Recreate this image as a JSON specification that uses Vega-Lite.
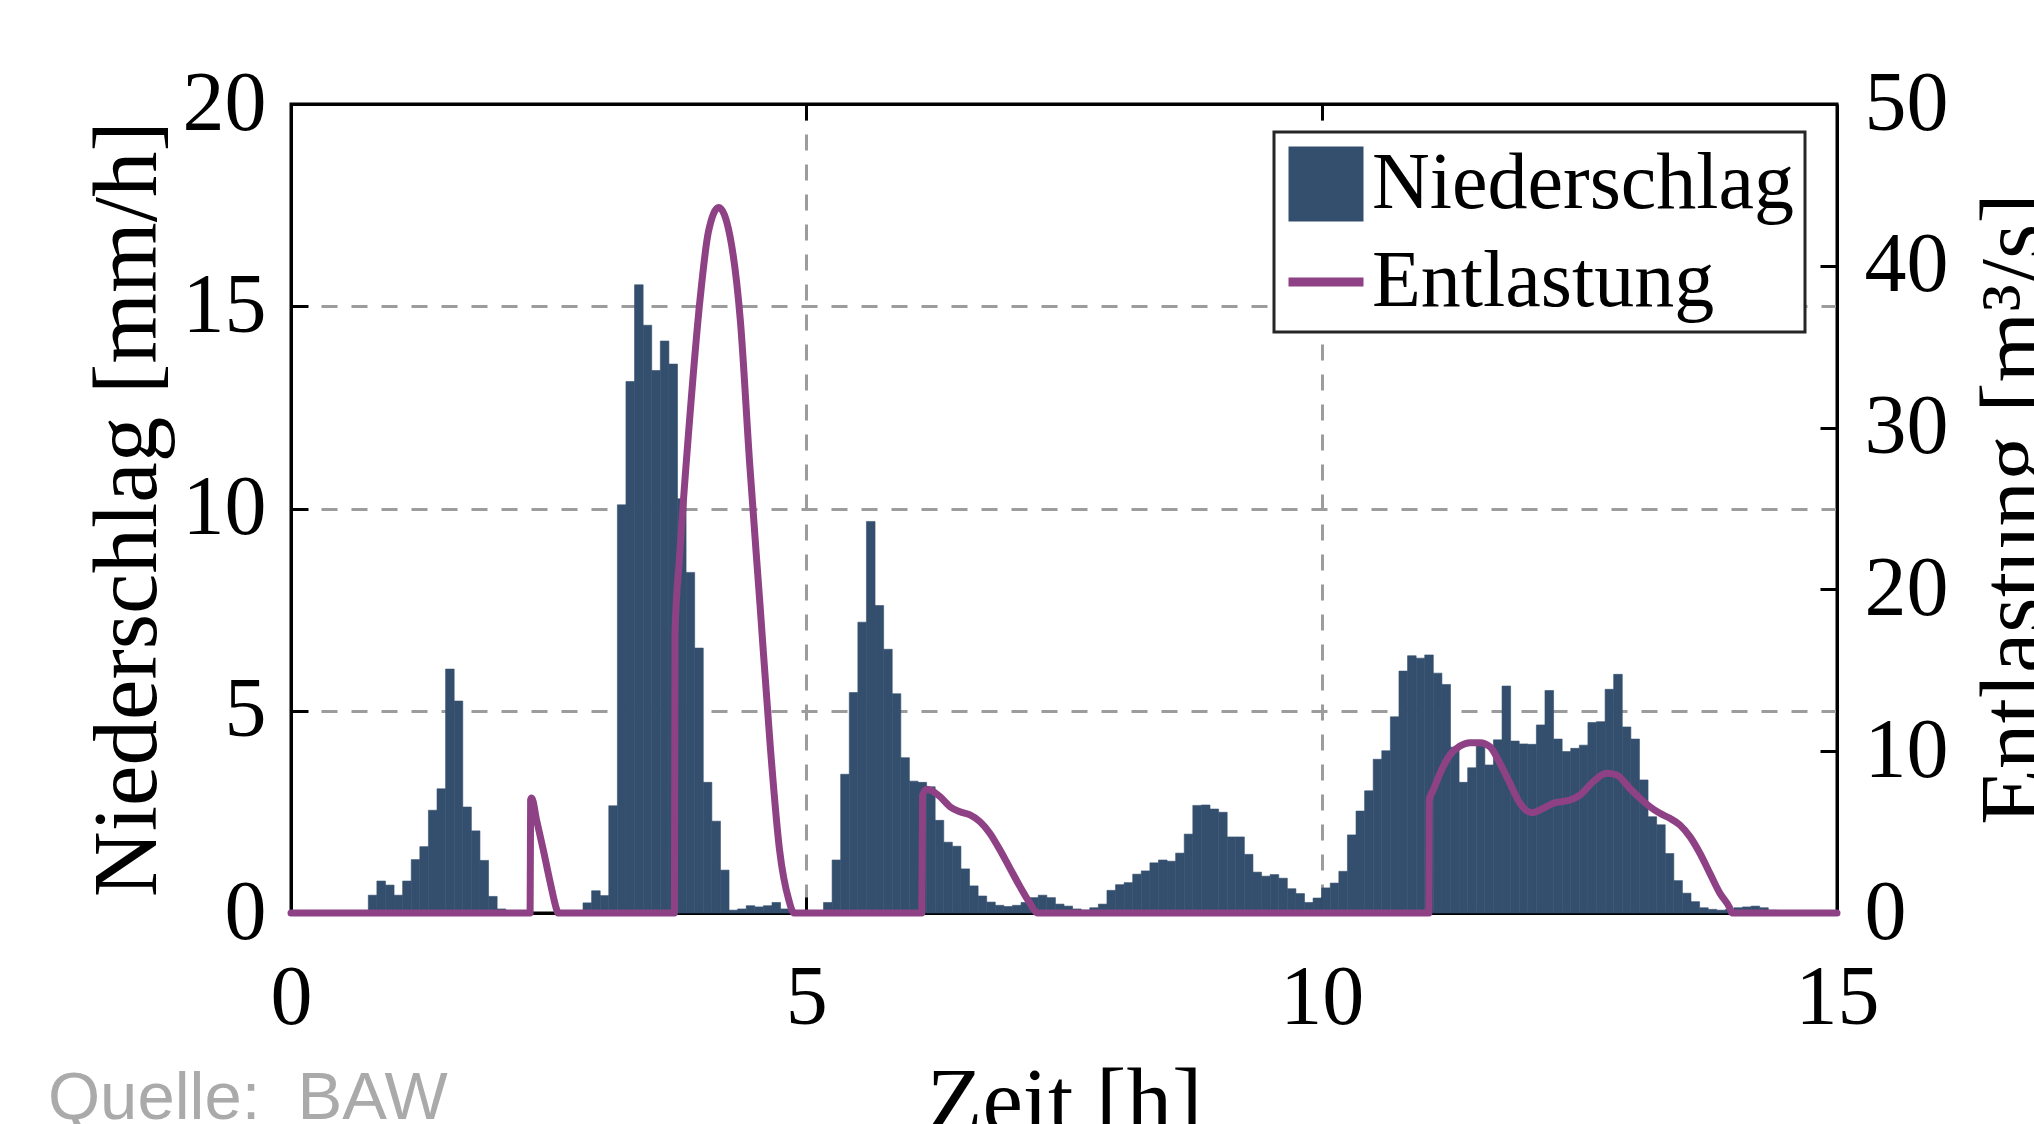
{
  "$schema": "https://vega.github.io/schema/vega-lite/v6.json",
  "width": 1546,
  "height": 809,
  "autosize": {"type": "none"},
  "padding": {"left": 291, "top": 104, "right": 197, "bottom": 211},
  "background": "white",
  "config": {
    "view": {"stroke": "black", "strokeWidth": 3},
    "font": "Liberation Serif",
    "axis": {
      "labelFont": "Liberation Serif",
      "labelFontSize": 84,
      "labelColor": "black",
      "titleFont": "Liberation Serif",
      "titleFontSize": 91,
      "titleFontWeight": "normal",
      "titleColor": "black",
      "domainColor": "black",
      "domainWidth": 3,
      "tickColor": "black",
      "tickWidth": 3,
      "gridColor": "#9c9c9c",
      "gridWidth": 3,
      "gridDash": [16, 14],
      "labelFlush": false,
      "labelOverlap": false
    },
    "legend": {
      "orient": "none",
      "legendX": 983,
      "legendY": 28,
      "direction": "vertical",
      "fillColor": "white",
      "strokeColor": "#262626",
      "strokeWidth": 3,
      "padding": 10,
      "labelOffset": 4,
      "rowPadding": -3,
      "symbolSize": 5625,
      "symbolStrokeWidth": 9,
      "symbolOpacity": 1,
      "labelFont": "Liberation Serif",
      "labelFontSize": 80,
      "labelColor": "black",
      "labelLimit": 0
    }
  },
  "title": {
    "text": "Quelle:\u00a0\u00a0BAW",
    "orient": "bottom",
    "anchor": "start",
    "frame": "group",
    "dx": -243,
    "offset": -82,
    "font": "Liberation Sans",
    "fontSize": 67,
    "fontWeight": "normal",
    "color": "#aaaaaa"
  },
  "datasets": {
    "series": [{"series": "Niederschlag"}, {"series": "Entlastung"}],
    "rain": [
      {"t0": 0.75, "t1": 0.8333, "mm": 0.44},
      {"t0": 0.8333, "t1": 0.9167, "mm": 0.79},
      {"t0": 0.9167, "t1": 1.0, "mm": 0.69},
      {"t0": 1.0, "t1": 1.0833, "mm": 0.44},
      {"t0": 1.0833, "t1": 1.1667, "mm": 0.79},
      {"t0": 1.1667, "t1": 1.25, "mm": 1.32},
      {"t0": 1.25, "t1": 1.3333, "mm": 1.64},
      {"t0": 1.3333, "t1": 1.4167, "mm": 2.54},
      {"t0": 1.4167, "t1": 1.5, "mm": 3.07},
      {"t0": 1.5, "t1": 1.5833, "mm": 6.03},
      {"t0": 1.5833, "t1": 1.6667, "mm": 5.24},
      {"t0": 1.6667, "t1": 1.75, "mm": 2.62},
      {"t0": 1.75, "t1": 1.8333, "mm": 2.03},
      {"t0": 1.8333, "t1": 1.9167, "mm": 1.3},
      {"t0": 1.9167, "t1": 2.0, "mm": 0.41},
      {"t0": 2.0, "t1": 2.0833, "mm": 0.1},
      {"t0": 2.8333, "t1": 2.9167, "mm": 0.25},
      {"t0": 2.9167, "t1": 3.0, "mm": 0.55},
      {"t0": 3.0, "t1": 3.0833, "mm": 0.43},
      {"t0": 3.0833, "t1": 3.1667, "mm": 2.65},
      {"t0": 3.1667, "t1": 3.25, "mm": 10.09},
      {"t0": 3.25, "t1": 3.3333, "mm": 13.14},
      {"t0": 3.3333, "t1": 3.4167, "mm": 15.53},
      {"t0": 3.4167, "t1": 3.5, "mm": 14.53},
      {"t0": 3.5, "t1": 3.5833, "mm": 13.41},
      {"t0": 3.5833, "t1": 3.6667, "mm": 14.14},
      {"t0": 3.6667, "t1": 3.75, "mm": 13.57},
      {"t0": 3.75, "t1": 3.8333, "mm": 10.24},
      {"t0": 3.8333, "t1": 3.9167, "mm": 8.42},
      {"t0": 3.9167, "t1": 4.0, "mm": 6.55},
      {"t0": 4.0, "t1": 4.0833, "mm": 3.23},
      {"t0": 4.0833, "t1": 4.1667, "mm": 2.27},
      {"t0": 4.1667, "t1": 4.25, "mm": 1.06},
      {"t0": 4.25, "t1": 4.3333, "mm": 0.07},
      {"t0": 4.3333, "t1": 4.4167, "mm": 0.1},
      {"t0": 4.4167, "t1": 4.5, "mm": 0.18},
      {"t0": 4.5, "t1": 4.5833, "mm": 0.15},
      {"t0": 4.5833, "t1": 4.6667, "mm": 0.18},
      {"t0": 4.6667, "t1": 4.75, "mm": 0.26},
      {"t0": 4.75, "t1": 4.8333, "mm": 0.1},
      {"t0": 4.8333, "t1": 4.9167, "mm": 0.03},
      {"t0": 4.9167, "t1": 5.0, "mm": 0.02},
      {"t0": 5.0, "t1": 5.0833, "mm": 0.02},
      {"t0": 5.0833, "t1": 5.1667, "mm": 0.03},
      {"t0": 5.1667, "t1": 5.25, "mm": 0.26},
      {"t0": 5.25, "t1": 5.3333, "mm": 1.31},
      {"t0": 5.3333, "t1": 5.4167, "mm": 3.43},
      {"t0": 5.4167, "t1": 5.5, "mm": 5.45},
      {"t0": 5.5, "t1": 5.5833, "mm": 7.19},
      {"t0": 5.5833, "t1": 5.6667, "mm": 9.68},
      {"t0": 5.6667, "t1": 5.75, "mm": 7.6},
      {"t0": 5.75, "t1": 5.8333, "mm": 6.52},
      {"t0": 5.8333, "t1": 5.9167, "mm": 5.42},
      {"t0": 5.9167, "t1": 6.0, "mm": 3.84},
      {"t0": 6.0, "t1": 6.0833, "mm": 3.26},
      {"t0": 6.0833, "t1": 6.1667, "mm": 3.23},
      {"t0": 6.1667, "t1": 6.25, "mm": 3.12},
      {"t0": 6.25, "t1": 6.3333, "mm": 2.29},
      {"t0": 6.3333, "t1": 6.4167, "mm": 1.75},
      {"t0": 6.4167, "t1": 6.5, "mm": 1.65},
      {"t0": 6.5, "t1": 6.5833, "mm": 1.09},
      {"t0": 6.5833, "t1": 6.6667, "mm": 0.67},
      {"t0": 6.6667, "t1": 6.75, "mm": 0.42},
      {"t0": 6.75, "t1": 6.8333, "mm": 0.27},
      {"t0": 6.8333, "t1": 6.9167, "mm": 0.19},
      {"t0": 6.9167, "t1": 7.0, "mm": 0.16},
      {"t0": 7.0, "t1": 7.0833, "mm": 0.19},
      {"t0": 7.0833, "t1": 7.1667, "mm": 0.26},
      {"t0": 7.1667, "t1": 7.25, "mm": 0.38},
      {"t0": 7.25, "t1": 7.3333, "mm": 0.44},
      {"t0": 7.3333, "t1": 7.4167, "mm": 0.38},
      {"t0": 7.4167, "t1": 7.5, "mm": 0.22},
      {"t0": 7.5, "t1": 7.5833, "mm": 0.17},
      {"t0": 7.5833, "t1": 7.6667, "mm": 0.1},
      {"t0": 7.6667, "t1": 7.75, "mm": 0.07},
      {"t0": 7.75, "t1": 7.8333, "mm": 0.13},
      {"t0": 7.8333, "t1": 7.9167, "mm": 0.22},
      {"t0": 7.9167, "t1": 8.0, "mm": 0.56},
      {"t0": 8.0, "t1": 8.0833, "mm": 0.7},
      {"t0": 8.0833, "t1": 8.1667, "mm": 0.75},
      {"t0": 8.1667, "t1": 8.25, "mm": 0.96},
      {"t0": 8.25, "t1": 8.3333, "mm": 1.04},
      {"t0": 8.3333, "t1": 8.4167, "mm": 1.24},
      {"t0": 8.4167, "t1": 8.5, "mm": 1.31},
      {"t0": 8.5, "t1": 8.5833, "mm": 1.28},
      {"t0": 8.5833, "t1": 8.6667, "mm": 1.48},
      {"t0": 8.6667, "t1": 8.75, "mm": 1.95},
      {"t0": 8.75, "t1": 8.8333, "mm": 2.66},
      {"t0": 8.8333, "t1": 8.9167, "mm": 2.67},
      {"t0": 8.9167, "t1": 9.0, "mm": 2.57},
      {"t0": 9.0, "t1": 9.0833, "mm": 2.49},
      {"t0": 9.0833, "t1": 9.1667, "mm": 1.88},
      {"t0": 9.1667, "t1": 9.25, "mm": 1.88},
      {"t0": 9.25, "t1": 9.3333, "mm": 1.45},
      {"t0": 9.3333, "t1": 9.4167, "mm": 1.01},
      {"t0": 9.4167, "t1": 9.5, "mm": 0.91},
      {"t0": 9.5, "t1": 9.5833, "mm": 0.95},
      {"t0": 9.5833, "t1": 9.6667, "mm": 0.86},
      {"t0": 9.6667, "t1": 9.75, "mm": 0.6},
      {"t0": 9.75, "t1": 9.8333, "mm": 0.48},
      {"t0": 9.8333, "t1": 9.9167, "mm": 0.26},
      {"t0": 9.9167, "t1": 10.0, "mm": 0.37},
      {"t0": 10.0, "t1": 10.0833, "mm": 0.62},
      {"t0": 10.0833, "t1": 10.1667, "mm": 0.74},
      {"t0": 10.1667, "t1": 10.25, "mm": 1.03},
      {"t0": 10.25, "t1": 10.3333, "mm": 1.93},
      {"t0": 10.3333, "t1": 10.4167, "mm": 2.52},
      {"t0": 10.4167, "t1": 10.5, "mm": 3.02},
      {"t0": 10.5, "t1": 10.5833, "mm": 3.8},
      {"t0": 10.5833, "t1": 10.6667, "mm": 4.01},
      {"t0": 10.6667, "t1": 10.75, "mm": 4.85},
      {"t0": 10.75, "t1": 10.8333, "mm": 5.98},
      {"t0": 10.8333, "t1": 10.9167, "mm": 6.36},
      {"t0": 10.9167, "t1": 11.0, "mm": 6.3},
      {"t0": 11.0, "t1": 11.0833, "mm": 6.38},
      {"t0": 11.0833, "t1": 11.1667, "mm": 5.93},
      {"t0": 11.1667, "t1": 11.25, "mm": 5.65},
      {"t0": 11.25, "t1": 11.3333, "mm": 4.1},
      {"t0": 11.3333, "t1": 11.4167, "mm": 3.23},
      {"t0": 11.4167, "t1": 11.5, "mm": 3.59},
      {"t0": 11.5, "t1": 11.5833, "mm": 4.2},
      {"t0": 11.5833, "t1": 11.6667, "mm": 3.66},
      {"t0": 11.6667, "t1": 11.75, "mm": 4.28},
      {"t0": 11.75, "t1": 11.8333, "mm": 5.61},
      {"t0": 11.8333, "t1": 11.9167, "mm": 4.25},
      {"t0": 11.9167, "t1": 12.0, "mm": 4.18},
      {"t0": 12.0, "t1": 12.0833, "mm": 4.17},
      {"t0": 12.0833, "t1": 12.1667, "mm": 4.65},
      {"t0": 12.1667, "t1": 12.25, "mm": 5.5},
      {"t0": 12.25, "t1": 12.3333, "mm": 4.3},
      {"t0": 12.3333, "t1": 12.4167, "mm": 3.99},
      {"t0": 12.4167, "t1": 12.5, "mm": 4.07},
      {"t0": 12.5, "t1": 12.5833, "mm": 4.15},
      {"t0": 12.5833, "t1": 12.6667, "mm": 4.71},
      {"t0": 12.6667, "t1": 12.75, "mm": 4.73},
      {"t0": 12.75, "t1": 12.8333, "mm": 5.53},
      {"t0": 12.8333, "t1": 12.9167, "mm": 5.9},
      {"t0": 12.9167, "t1": 13.0, "mm": 4.6},
      {"t0": 13.0, "t1": 13.0833, "mm": 4.3},
      {"t0": 13.0833, "t1": 13.1667, "mm": 3.29},
      {"t0": 13.1667, "t1": 13.25, "mm": 2.38},
      {"t0": 13.25, "t1": 13.3333, "mm": 2.18},
      {"t0": 13.3333, "t1": 13.4167, "mm": 1.47},
      {"t0": 13.4167, "t1": 13.5, "mm": 0.8},
      {"t0": 13.5, "t1": 13.5833, "mm": 0.49},
      {"t0": 13.5833, "t1": 13.6667, "mm": 0.28},
      {"t0": 13.6667, "t1": 13.75, "mm": 0.13},
      {"t0": 13.75, "t1": 13.8333, "mm": 0.09},
      {"t0": 13.8333, "t1": 13.9167, "mm": 0.07},
      {"t0": 13.9167, "t1": 14.0, "mm": 0.09},
      {"t0": 14.0, "t1": 14.0833, "mm": 0.13},
      {"t0": 14.0833, "t1": 14.1667, "mm": 0.15},
      {"t0": 14.1667, "t1": 14.25, "mm": 0.17},
      {"t0": 14.25, "t1": 14.3333, "mm": 0.13},
      {"t0": 14.3333, "t1": 14.4167, "mm": 0.07},
      {"t0": 14.4167, "t1": 14.5, "mm": 0.05},
      {"t0": 14.5, "t1": 14.5833, "mm": 0.03},
      {"t0": 14.5833, "t1": 14.6667, "mm": 0.02}
    ],
    "flow": [
      {"t": 0, "q": 0}, {"t": 2.32, "q": 0}, {"t": 2.325, "q": 7.0}, {"t": 2.335, "q": 7.1},
      {"t": 2.384, "q": 5.7}, {"t": 2.448, "q": 3.9}, {"t": 2.513, "q": 1.95}, {"t": 2.578, "q": 0.2},
      {"t": 2.59, "q": 0}, {"t": 3.72, "q": 0}, {"t": 3.726, "q": 17.3}, {"t": 3.77, "q": 22.0},
      {"t": 3.87, "q": 30.7}, {"t": 3.97, "q": 38.0}, {"t": 4.05, "q": 42.1}, {"t": 4.15, "q": 43.6},
      {"t": 4.26, "q": 41.8}, {"t": 4.36, "q": 36.6}, {"t": 4.45, "q": 27.8}, {"t": 4.55, "q": 19.1},
      {"t": 4.65, "q": 10.3}, {"t": 4.74, "q": 3.9}, {"t": 4.83, "q": 0.8}, {"t": 4.88, "q": 0},
      {"t": 6.12, "q": 0}, {"t": 6.128, "q": 7.3}, {"t": 6.17, "q": 7.65}, {"t": 6.2, "q": 7.6},
      {"t": 6.297, "q": 7.19}, {"t": 6.394, "q": 6.57}, {"t": 6.49, "q": 6.26}, {"t": 6.588, "q": 6.06},
      {"t": 6.685, "q": 5.64}, {"t": 6.782, "q": 4.92}, {"t": 6.879, "q": 3.89}, {"t": 6.976, "q": 2.76},
      {"t": 7.073, "q": 1.63}, {"t": 7.17, "q": 0.6}, {"t": 7.24, "q": 0}, {"t": 11.04, "q": 0},
      {"t": 11.044, "q": 7.0}, {"t": 11.083, "q": 7.6}, {"t": 11.148, "q": 8.63}, {"t": 11.245, "q": 9.77},
      {"t": 11.342, "q": 10.32}, {"t": 11.439, "q": 10.53}, {"t": 11.536, "q": 10.53}, {"t": 11.633, "q": 10.28},
      {"t": 11.73, "q": 9.25}, {"t": 11.827, "q": 8.01}, {"t": 11.924, "q": 6.78}, {"t": 12.037, "q": 6.2},
      {"t": 12.15, "q": 6.47}, {"t": 12.247, "q": 6.78}, {"t": 12.409, "q": 6.98}, {"t": 12.506, "q": 7.29},
      {"t": 12.635, "q": 8.12}, {"t": 12.765, "q": 8.63}, {"t": 12.862, "q": 8.53}, {"t": 12.991, "q": 7.7},
      {"t": 13.088, "q": 7.09}, {"t": 13.185, "q": 6.57}, {"t": 13.282, "q": 6.16}, {"t": 13.379, "q": 5.85},
      {"t": 13.476, "q": 5.44}, {"t": 13.573, "q": 4.72}, {"t": 13.67, "q": 3.69}, {"t": 13.767, "q": 2.45},
      {"t": 13.864, "q": 1.22}, {"t": 13.961, "q": 0.29}, {"t": 13.98, "q": 0}, {"t": 15, "q": 0}
    ]
  },
  "layer": [
    {
      "data": {"name": "rain"},
      "mark": {"type": "bar", "stroke": "#344f6e", "strokeWidth": 0.6},
      "encoding": {
        "x": {
          "field": "t0", "type": "quantitative",
          "scale": {"domain": [0, 15], "nice": false, "zero": false},
          "axis": {
            "orient": "bottom", "values": [0, 5, 10, 15], "title": "Zeit [h]",
            "grid": true, "tickSize": -16, "labelPadding": 60, "titlePadding": 18,
            "gridOpacity": {"condition": {"test": "datum.value === 0 || datum.value === 15", "value": 0}, "value": 1}
          }
        },
        "x2": {"field": "t1"},
        "y": {
          "field": "mm", "type": "quantitative",
          "scale": {"domain": [0, 20], "nice": false},
          "axis": {
            "orient": "left", "values": [0, 5, 10, 15, 20], "title": "Niederschlag [mm/h]",
            "grid": true, "tickSize": -17, "labelPadding": 42, "titlePadding": 8,
            "gridOpacity": {"condition": {"test": "datum.value === 0 || datum.value === 20", "value": 0}, "value": 1}
          }
        },
        "y2": {"datum": 0},
        "fill": {
          "datum": "Niederschlag",
          "scale": {"domain": ["Niederschlag", "Entlastung"], "range": ["#344f6e", "transparent"]},
          "legend": {"title": null}
        }
      }
    },
    {
      "data": {"name": "flow"},
      "mark": {"type": "line", "interpolate": "monotone", "strokeWidth": 7, "strokeJoin": "round", "strokeCap": "round"},
      "encoding": {
        "x": {
          "field": "t", "type": "quantitative",
          "scale": {"domain": [0, 15], "nice": false, "zero": false},
          "axis": {
            "orient": "top", "values": [5, 10], "labels": false, "title": null,
            "grid": false, "tickSize": -16
          }
        },
        "y": {
          "field": "q", "type": "quantitative",
          "scale": {"domain": [0, 50], "nice": false},
          "axis": {
            "orient": "right", "values": [0, 10, 20, 30, 40, 50], "title": "Entlastung [m³/s]",
            "grid": false, "tickSize": -17, "labelPadding": 44, "titlePadding": 22,
            "titleAngle": -90, "titleBaseline": "top"
          }
        },
        "stroke": {
          "datum": "Entlastung",
          "scale": {"domain": ["Niederschlag", "Entlastung"], "range": ["transparent", "#8e4285"]},
          "legend": {"title": null}
        }
      }
    },
    {
      "data": {"name": "series"},
      "mark": {"type": "point", "opacity": 0},
      "encoding": {
        "shape": {
          "field": "series", "type": "nominal",
          "scale": {"domain": ["Niederschlag", "Entlastung"], "range": ["square", "stroke"]},
          "legend": {"title": null}
        }
      }
    }
  ],
  "resolve": {"scale": {"y": "independent"}, "axis": {"x": "independent"}}
}
